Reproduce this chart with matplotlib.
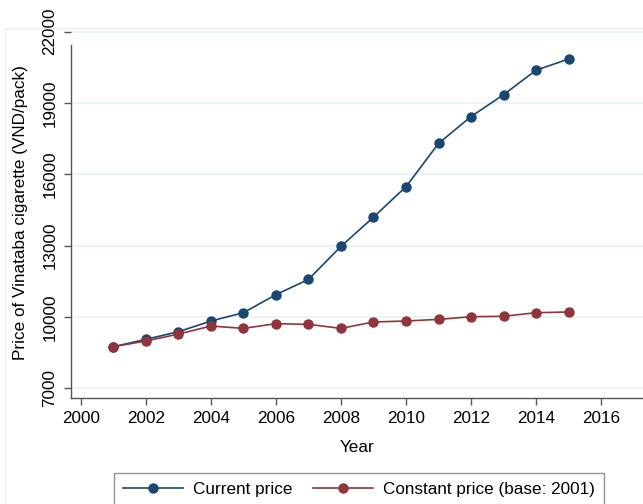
"""Price of Vinataba cigarette, current vs constant price."""
import matplotlib
matplotlib.use('Agg')

import matplotlib.pyplot as plt
from matplotlib.lines import Line2D

years = [2001, 2002, 2003, 2004, 2005, 2006, 2007, 2008,
         2009, 2010, 2011, 2012, 2013, 2014, 2015]
current_price = [8750, 9060, 9380, 9830, 10180, 10940, 11580, 12970,
                 14200, 15480, 17300, 18430, 19350, 20380, 20850]
constant_price = [8750, 8990, 9280, 9620, 9520, 9720, 9690, 9520,
                  9790, 9830, 9900, 10010, 10030, 10180, 10210]

yticks = [7000, 10000, 13000, 16000, 19000, 22000]
xticks = [2000, 2002, 2004, 2006, 2008, 2010, 2012, 2014, 2016]

blue = '#1a476f'
red = '#90353b'
grid_col = '#e9f1f3'
axis_col = '#555555'
fs = 12.3

plt.rcParams['font.family'] = ['Liberation Sans', 'DejaVu Sans']

W, H = 643, 504
fig = plt.figure(figsize=(W / 100, H / 100), dpi=100)

# axes box in pixels: left 70.5, right 643, top 27.5, bottom 398.3
ax = fig.add_axes([70.5 / W, 1 - 398.3 / H, (643 - 70.5) / W, (398.3 - 27.5) / H])

# pale outer frame
fig.add_artist(Line2D([5 / W, 1.0], [1 - 27.5 / H, 1 - 27.5 / H],
                      color=grid_col, lw=1, transform=fig.transFigure))
fig.add_artist(Line2D([5 / W, 5 / W], [1 - 27.5 / H, 0.0],
                      color=grid_col, lw=1, transform=fig.transFigure))

ax.plot(years, current_price, color=blue, lw=1.2, marker='o', ms=6.5,
        label='Current price', zorder=3)
ax.plot(years, constant_price, color=red, lw=1.2, marker='o', ms=6.5,
        label='Constant price (base: 2001)', zorder=3)

ax.set_xlim(1999.68, 2017.29)
ax.set_ylim(6579, 22177)
ax.set_xticks(xticks)
ax.set_yticks(yticks)
ax.set_yticklabels([str(v) for v in yticks], rotation=90, va='center')

ax.grid(axis='y', color=grid_col, lw=1.2)
ax.set_axisbelow(True)

for side in ['top', 'right']:
    ax.spines[side].set_visible(False)
for side in ['left', 'bottom']:
    ax.spines[side].set_color(axis_col)
    ax.spines[side].set_linewidth(1)
ax.spines['left'].set_bounds(6579, 21440)

ax.tick_params(axis='both', length=5, width=1, color=axis_col,
               labelsize=fs, labelcolor='black')
ax.tick_params(axis='x', pad=4.5)
ax.tick_params(axis='y', pad=4.5)

ax.set_xlabel('Year', fontsize=fs, labelpad=10)
ax.set_ylabel('Price of Vinataba cigarette (VND/pack)', fontsize=fs,
              labelpad=10)

leg = fig.legend(loc='upper left', bbox_to_anchor=(113.5 / W, 1 - 473 / H),
                 ncol=2, frameon=True, fancybox=False, fontsize=fs,
                 handlelength=3.5, handletextpad=0.6, columnspacing=1.2,
                 borderpad=0.55, borderaxespad=0)
leg.get_frame().set_edgecolor('#777777')
leg.get_frame().set_linewidth(1)

fig.savefig('out.png', dpi=100)
